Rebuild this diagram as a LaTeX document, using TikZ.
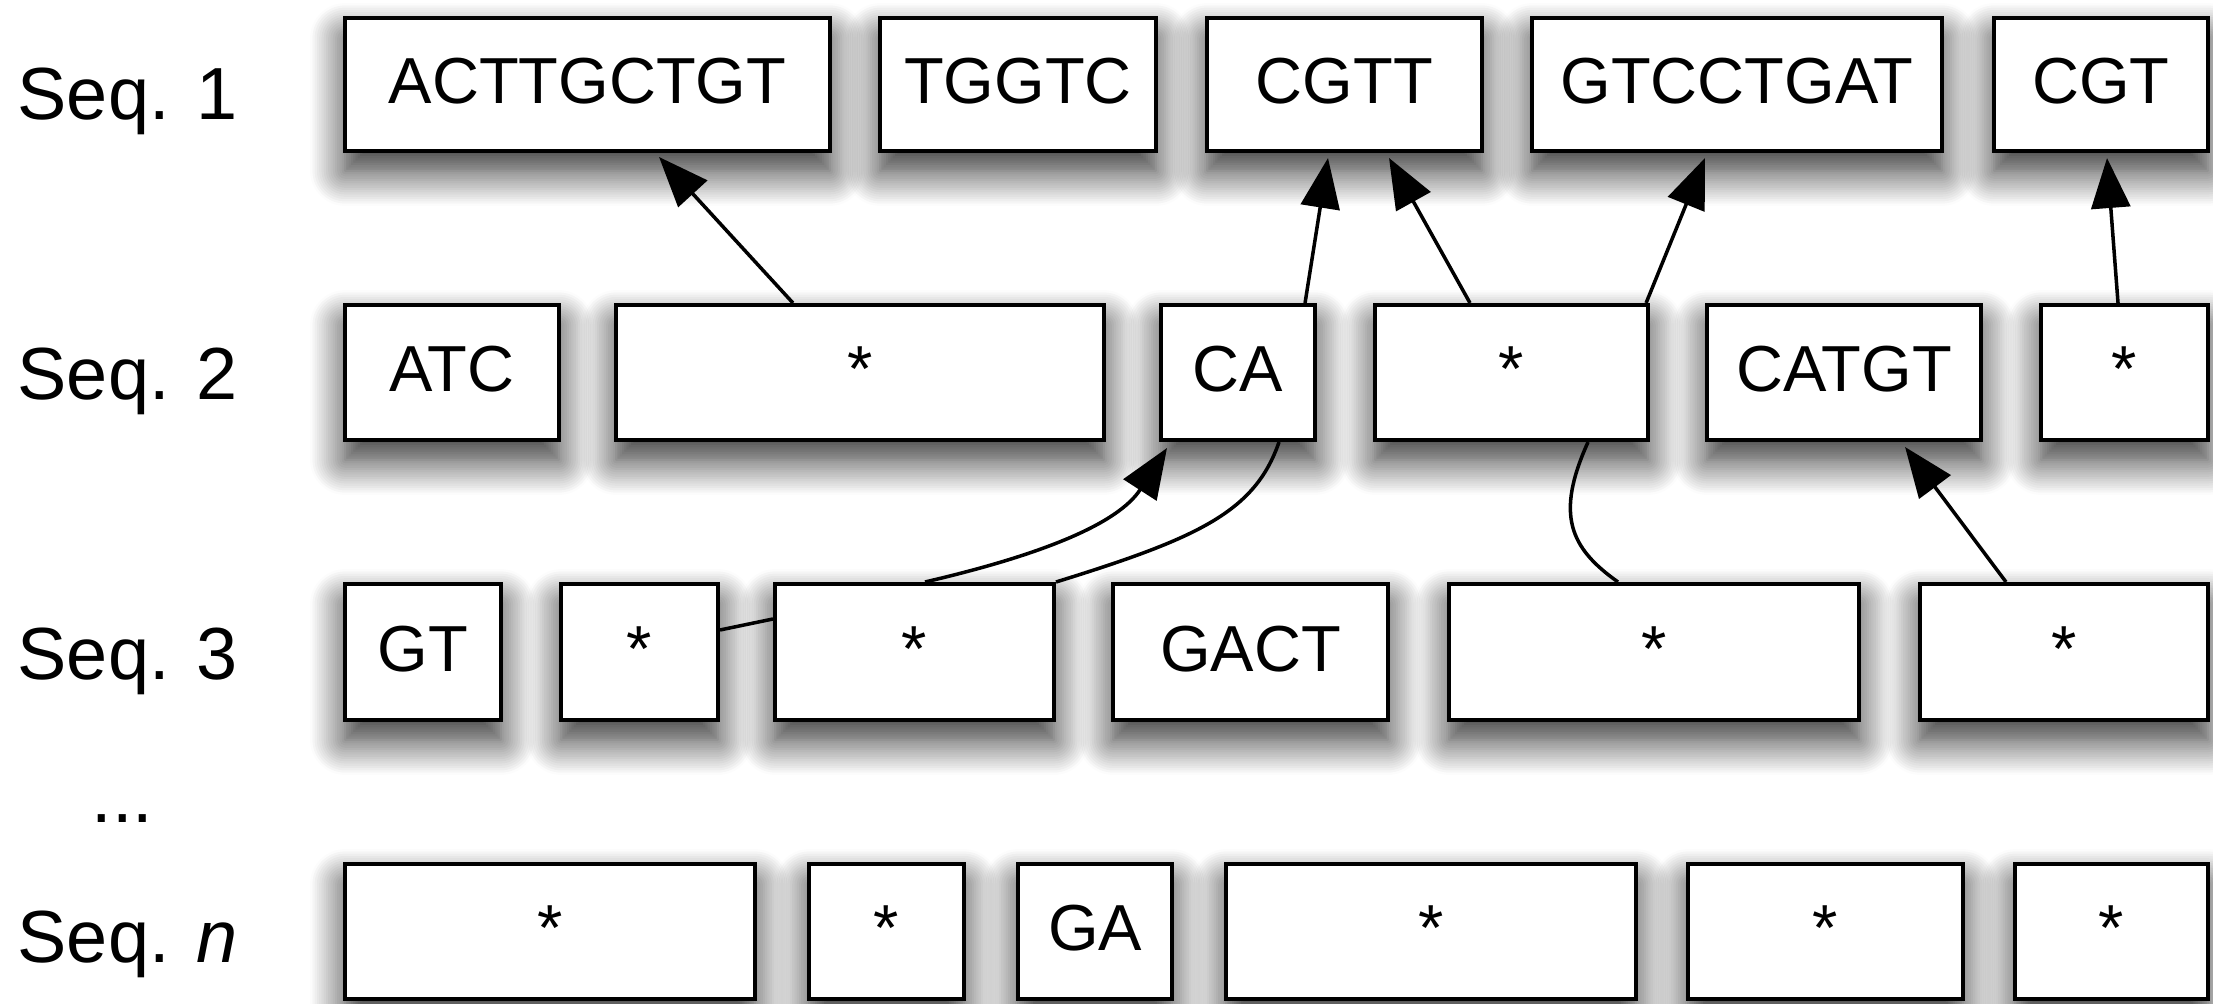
\documentclass[tikz,border=0pt]{standalone}
\usepackage{fontspec}
\setmainfont{Liberation Sans}
\usetikzlibrary{arrows.meta,shadows.blur}
\tikzset{
  seqbox/.style={draw=black, line width=1.2pt, fill=white, inner sep=0pt,
    text height=13.3pt, text depth=2.3pt, font=\fontsize{18.5}{20}\selectfont,
    blur shadow={shadow xshift=0pt, shadow yshift=-0.2cm, shadow blur radius=0.35cm,
      shadow blur steps=16, shadow opacity=85}},
  seqlabel/.style={inner sep=0pt, anchor=base west, font=\fontsize{21}{24}\selectfont},
  link/.style={line width=1pt, draw=black},
  arr/.style={link, -{Triangle[length=0.5cm,width=0.39cm]}},
}
\newcommand\sqbox[6]{%
  \node[seqbox, minimum width={(#3-#2)*0.01cm-1.2pt}, minimum height={(#5-#4)*0.01cm-1.2pt}]
    (#1) at ({(#2+#3)/2},{(#4+#5)/2}) {#6};}
\begin{document}
\begin{tikzpicture}[x=0.01cm,y=-0.01cm]
\useasboundingbox (0,0) rectangle (2213,1004);
\clip (0,0) rectangle (2213,1004);
% labels
\node[seqlabel] (L1) at (17,120) {Seq. 1};
\node[seqlabel] (L2) at (17,400) {Seq. 2};
\node[seqlabel] (L3) at (17,680) {Seq. 3};
\node[seqlabel] (Ldots) at (91,822) {...};
\node[seqlabel] (Ln) at (17,962) {Seq. \textit{n}};
% row 1
\sqbox{A1}{343}{832}{16}{153}{ACTTGCTGT}
\sqbox{A2}{878}{1158}{16}{153}{TGGTC}
\sqbox{A3}{1205}{1484}{16}{153}{CGTT}
\sqbox{A4}{1530}{1944}{16}{153}{GTCCTGAT}
\sqbox{A5}{1992}{2210}{16}{153}{CGT}
% row 2
\sqbox{B1}{343}{561}{303}{442}{ATC}
\sqbox{B2}{614}{1106}{303}{442}{*}
\sqbox{B3}{1159}{1317}{303}{442}{CA}
\sqbox{B4}{1373}{1650}{303}{442}{*}
\sqbox{B5}{1705}{1983}{303}{442}{CATGT}
\sqbox{B6}{2039}{2210}{303}{442}{*}
% row 3
\sqbox{C1}{343}{503}{582}{722}{GT}
\sqbox{C2}{559}{720}{582}{722}{*}
\sqbox{C3}{773}{1056}{582}{722}{*}
\sqbox{C4}{1111}{1390}{582}{722}{GACT}
\sqbox{C5}{1447}{1861}{582}{722}{*}
\sqbox{C6}{1918}{2210}{582}{722}{*}
% row n
\sqbox{D1}{343}{757}{862}{1001}{*}
\sqbox{D2}{807}{966}{862}{1001}{*}
\sqbox{D3}{1016}{1174}{862}{1001}{GA}
\sqbox{D4}{1224}{1638}{862}{1001}{*}
\sqbox{D5}{1686}{1965}{862}{1001}{*}
\sqbox{D6}{2013}{2210}{862}{1001}{*}
% connectors
\draw[arr] ([xshift=-0.67cm]B2.north) -- ([xshift=0.715cm,yshift=-0.04cm]A1.south);
\draw[arr] ([xshift=0.67cm]B3.north) -- ([xshift=-0.165cm,yshift=-0.05cm]A3.south);
\draw[arr] ([xshift=-0.415cm]B4.north) -- ([xshift=0.445cm,yshift=-0.05cm]A3.south);
\draw[arr] ([xshift=1.345cm]B4.north) -- ([xshift=-0.32cm,yshift=-0.05cm]A4.south);
\draw[arr] ([xshift=-0.065cm]B6.north) -- ([xshift=0.06cm,yshift=-0.05cm]A5.south);
\draw[arr] ([xshift=-0.58cm]C6.north) -- ([xshift=0.61cm,yshift=-0.05cm]B5.south);
\draw[arr] ([yshift=0.22cm]C2.east) -- ([yshift=0.33cm]C3.west)
  ([xshift=0.105cm]C3.north) .. controls (1041,555) and (1118,524) .. ([xshift=0.08cm,yshift=-0.06cm]B3.south west);
\draw[link] ([xshift=0.41cm]B3.south) .. controls (1255,512) and (1198,538) .. (C3.north east);
\draw[link] ([xshift=0.765cm]B4.south) .. controls (1555,515) and (1570,548) .. ([xshift=-0.36cm]C5.north);
\end{tikzpicture}
\end{document}
